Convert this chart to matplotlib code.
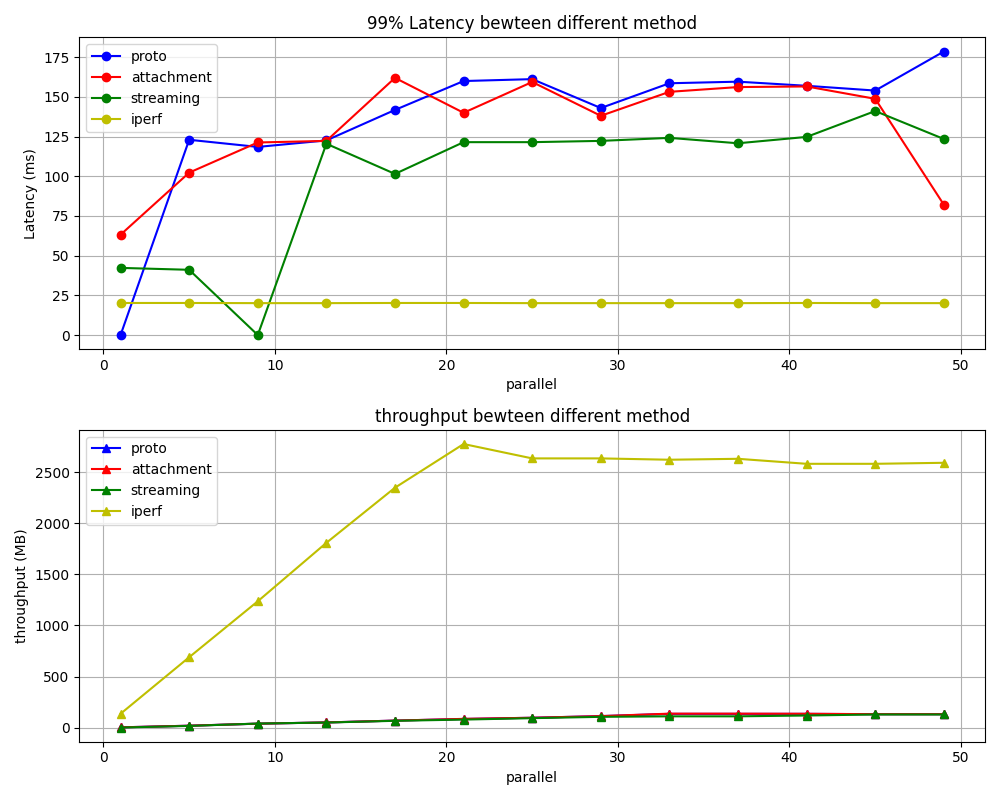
import matplotlib.pyplot as plt

parallel = [1, 5, 9, 13, 17, 21, 25, 29, 33, 37, 41, 45, 49]

# 99% latency (ms)
lat_proto = [0, 123.0, 118.5, 122.6, 141.8, 160.0, 161.2, 143.0, 158.6, 159.6, 157.0, 154.0, 178.6]
lat_attachment = [63.2, 102.3, 121.3, 122.3, 162.0, 140.0, 159.4, 138.1, 153.2, 156.2, 156.6, 148.8, 82.1]
lat_streaming = [42.3, 41.1, 0, 120.5, 101.5, 121.5, 121.5, 122.3, 124.2, 120.8, 124.8, 141.1, 123.5]
lat_iperf = [20.2, 20.2, 20.1, 20.1, 20.2, 20.2, 20.1, 20.1, 20.1, 20.1, 20.2, 20.1, 20.1]

# throughput (MB)
tp_proto = [2, 18, 38, 50, 68, 84, 96, 112, 134, 134, 134, 131, 131]
tp_attachment = [2, 18, 38, 50, 68, 85, 96, 112, 136, 136, 135, 131, 131]
tp_streaming = [0, 16, 39, 49, 66, 78, 92, 105, 110, 110, 118, 128, 128]
tp_iperf = [135, 689, 1237, 1810, 2350, 2778, 2637, 2637, 2624, 2633, 2584, 2584, 2594]

fig, (ax1, ax2) = plt.subplots(2, 1, figsize=(10, 8), dpi=100)

ax1.plot(parallel, lat_proto, 'bo-', label='proto')
ax1.plot(parallel, lat_attachment, 'ro-', label='attachment')
ax1.plot(parallel, lat_streaming, 'go-', label='streaming')
ax1.plot(parallel, lat_iperf, 'yo-', label='iperf')
ax1.set_title('99% Latency bewteen different method')
ax1.set_xlabel('parallel')
ax1.set_ylabel('Latency (ms)')
ax1.grid(True)
ax1.legend(loc='upper left')

ax2.plot(parallel, tp_proto, 'b^-', label='proto')
ax2.plot(parallel, tp_attachment, 'r^-', label='attachment')
ax2.plot(parallel, tp_streaming, 'g^-', label='streaming')
ax2.plot(parallel, tp_iperf, 'y^-', label='iperf')
ax2.set_title('throughput bewteen different method')
ax2.set_xlabel('parallel')
ax2.set_ylabel('throughput (MB)')
ax2.grid(True)
ax2.legend(loc='upper left')

plt.tight_layout()
plt.savefig('out.png')
